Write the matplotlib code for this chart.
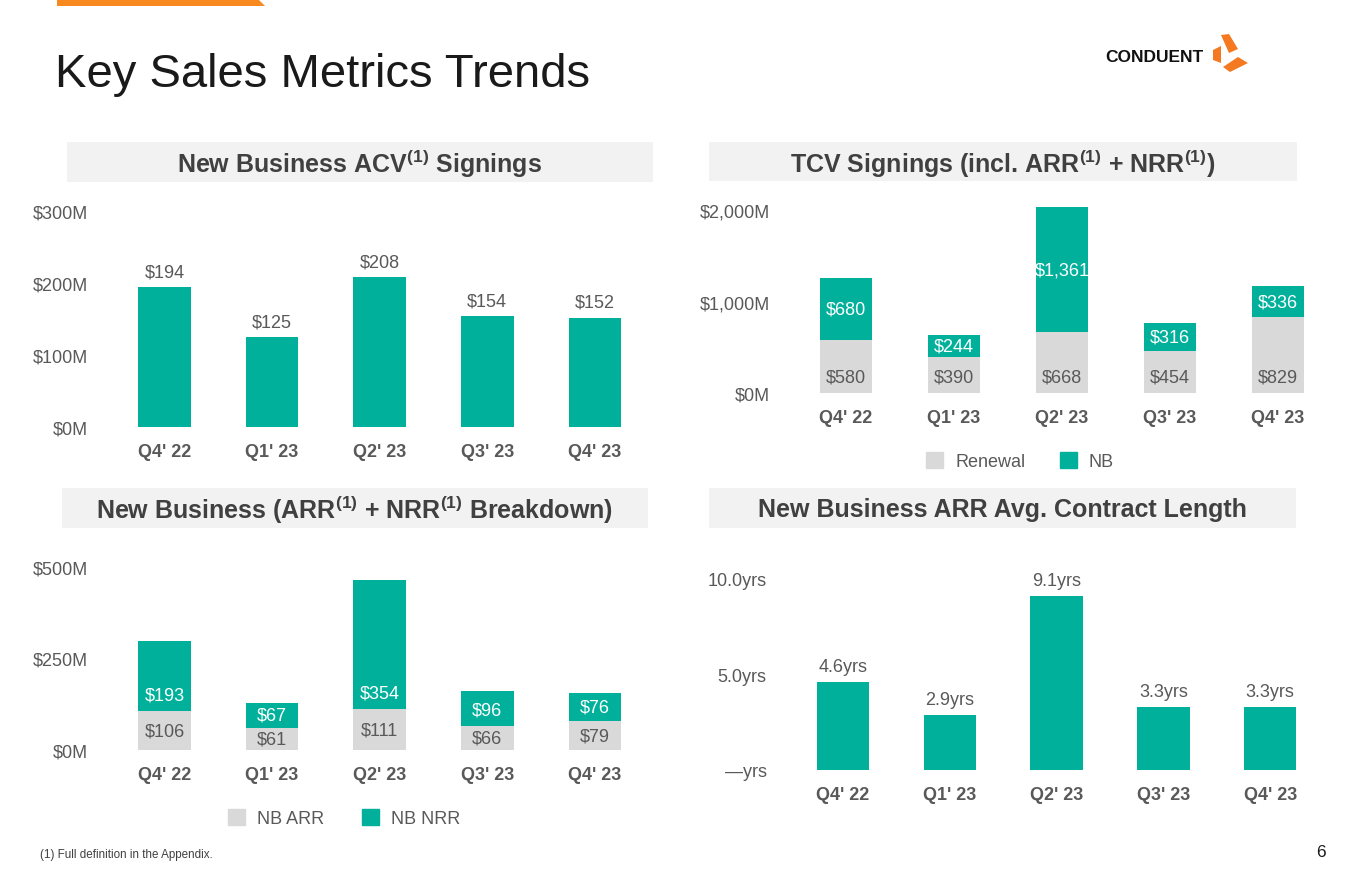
import matplotlib
matplotlib.use("Agg")
import matplotlib.pyplot as plt
from matplotlib.patches import Rectangle, Polygon, Patch
from matplotlib.ticker import FuncFormatter

plt.rcParams["font.family"] = "Liberation Sans"
plt.rcParams["mathtext.fontset"] = "custom"
plt.rcParams["mathtext.rm"] = "Liberation Sans"
plt.rcParams["mathtext.default"] = "regular"

# data
quarters = ["Q4' 22", "Q1' 23", "Q2' 23", "Q3' 23", "Q4' 23"]
acv = [194, 125, 208, 154, 152]
tcv_renewal = [580, 390, 668, 454, 829]
tcv_nb = [680, 244, 1361, 316, 336]
nb_arr = [106, 61, 111, 66, 79]
nb_nrr = [193, 67, 354, 96, 76]
contract_years = [4.6, 2.9, 9.1, 3.3, 3.3]

TEAL = "#00B09B"
GREY = "#D9D9D9"
TXT = "#595959"
FS = 13

W, H = 1365, 878
fig = plt.figure(figsize=(W / 100, H / 100), dpi=100)

# pixel-space overlay for slide decorations
bg = fig.add_axes([0, 0, 1, 1], zorder=0)
bg.set_xlim(0, W)
bg.set_ylim(H, 0)
bg.axis("off")

bg.add_patch(Polygon([(57, 0), (258, 0), (265, 7), (57, 7)], color="#F7891F", lw=0))
bg.text(55, 75, "Key Sales Metrics Trends", fontsize=34, color="#1A1A1A", va="center")

# logo
bg.text(1204, 57, "CONDUENT", fontsize=12.5, fontweight="heavy", color="#111111",
        ha="right", va="center")
logo_orange = "#F47920"
bg.add_patch(Polygon([(1221, 36), (1229, 35), (1238, 50), (1229, 54)], color=logo_orange, lw=0))
bg.add_patch(Polygon([(1213, 51), (1221, 47), (1221, 64), (1213, 61)], color=logo_orange, lw=0))
bg.add_patch(Polygon([(1223, 68), (1238, 58), (1248, 64), (1230, 73)], color=logo_orange, lw=0))

headers = [
    (67, 653, 143, 183, "New Business ACV$^{(1)}$ Signings"),
    (709, 1297, 143, 182, "TCV Signings (incl. ARR$^{(1)}$ + NRR$^{(1)}$)"),
    (62, 648, 489, 529, "New Business (ARR$^{(1)}$ + NRR$^{(1)}$ Breakdown)"),
    (709, 1296, 489, 529, "New Business ARR Avg. Contract Length"),
]
for x0, x1, y0, y1, label in headers:
    bg.add_patch(Rectangle((x0, y0), x1 - x0, y1 - y0, color="#F2F2F2", lw=0))
    bg.text((x0 + x1) / 2, (y0 + y1) / 2 + 1, label, fontsize=18, fontweight="bold",
            color="#404040", ha="center", va="center")

bg.text(40, 855, "(1) Full definition in the Appendix.", fontsize=8.4, color="#404040",
        va="center")
bg.text(1326, 853, "6", fontsize=12.4, color="#1A1A1A", ha="right", va="center")


def make_panel(left, right, top_px, base_px, ymax, first_x, step, ticks, fmt):
    ax = fig.add_axes([left / W, 1 - base_px / H, (right - left) / W, (base_px - top_px) / H])
    ax.set_facecolor("none")
    ax.set_xlim((left - first_x) / step, (right - first_x) / step)
    ax.set_ylim(0, ymax)
    for s in ax.spines.values():
        s.set_visible(False)
    ax.set_yticks(ticks)
    ax.yaxis.set_major_formatter(FuncFormatter(fmt))
    ax.set_xticks(range(len(quarters)))
    ax.set_xticklabels(quarters, fontweight="bold")
    ax.tick_params(length=0, labelsize=FS, labelcolor=TXT)
    ax.tick_params(axis="x", pad=11.5)
    ax.tick_params(axis="y", pad=4.5)
    ax.px_per_unit = (base_px - top_px) / ymax
    return ax


def label_on_top(ax, vals, fmt):
    for i, v in enumerate(vals):
        ax.annotate(fmt(v), (i, v), xytext=(0, 5), textcoords="offset points",
                    ha="center", va="bottom", fontsize=FS, color=TXT)


def label_inside_base(ax, bases, vals, color, offset_px=16):
    for i, (b, v) in enumerate(zip(bases, vals)):
        off = min(offset_px / ax.px_per_unit, v / 2)
        ax.text(i, b + off, "${:,}".format(v), ha="center", va="center",
                fontsize=FS, color=color)


x = list(range(len(quarters)))
bw = 0.49

# New Business ACV signings
ax1 = make_panel(94, 650, 212, 428, 300, 164.5, 107.6, [0, 100, 200, 300],
                 lambda v, p: "${:,.0f}M".format(v))
ax1.bar(x, acv, bw, color=TEAL, clip_on=False)
label_on_top(ax1, acv, lambda v: "${}".format(v))

# TCV signings
ax2 = make_panel(776, 1310, 211, 394, 2000, 846, 108, [0, 1000, 2000],
                 lambda v, p: "${:,.0f}M".format(v))
ax2.bar(x, tcv_renewal, bw, color=GREY, clip_on=False, label="Renewal")
ax2.bar(x, tcv_nb, bw, bottom=tcv_renewal, color=TEAL, clip_on=False, label="NB")
label_inside_base(ax2, [0] * 5, tcv_renewal, TXT)
label_inside_base(ax2, tcv_renewal, tcv_nb, "white", offset_px=100)
ax2.legend(handles=[Patch(color=GREY, label="Renewal"), Patch(color=TEAL, label="NB")],
           loc="center", bbox_to_anchor=(1020 / W, 1 - 462 / H), bbox_transform=fig.transFigure,
           ncol=2, frameon=False, fontsize=FS, labelcolor=TXT, handlelength=0.95,
           handleheight=0.95, handletextpad=0.65, columnspacing=1.9)

# New Business ARR + NRR breakdown
ax3 = make_panel(94, 650, 568, 751, 500, 164.5, 107.6, [0, 250, 500],
                 lambda v, p: "${:,.0f}M".format(v))
ax3.bar(x, nb_arr, bw, color=GREY, clip_on=False)
ax3.bar(x, nb_nrr, bw, bottom=nb_arr, color=TEAL, clip_on=False)
label_inside_base(ax3, [0] * 5, nb_arr, TXT, offset_px=100)
label_inside_base(ax3, nb_arr, nb_nrr, "white")
ax3.legend(handles=[Patch(color=GREY, label="NB ARR"), Patch(color=TEAL, label="NB NRR")],
           loc="center", bbox_to_anchor=(344 / W, 1 - 819 / H), bbox_transform=fig.transFigure,
           ncol=2, frameon=False, fontsize=FS, labelcolor=TXT, handlelength=0.95,
           handleheight=0.95, handletextpad=0.65, columnspacing=2.1)

# ARR average contract length
ax4 = make_panel(773, 1310, 580, 771, 10, 843, 106.8, [0, 5, 10],
                 lambda v, p: "\u2014yrs" if v == 0 else "{:.1f}yrs".format(v))
ax4.bar(x, contract_years, bw, color=TEAL, clip_on=False)
label_on_top(ax4, contract_years, lambda v: "{:.1f}yrs".format(v))

fig.savefig("out.png", dpi=100, facecolor="white")
